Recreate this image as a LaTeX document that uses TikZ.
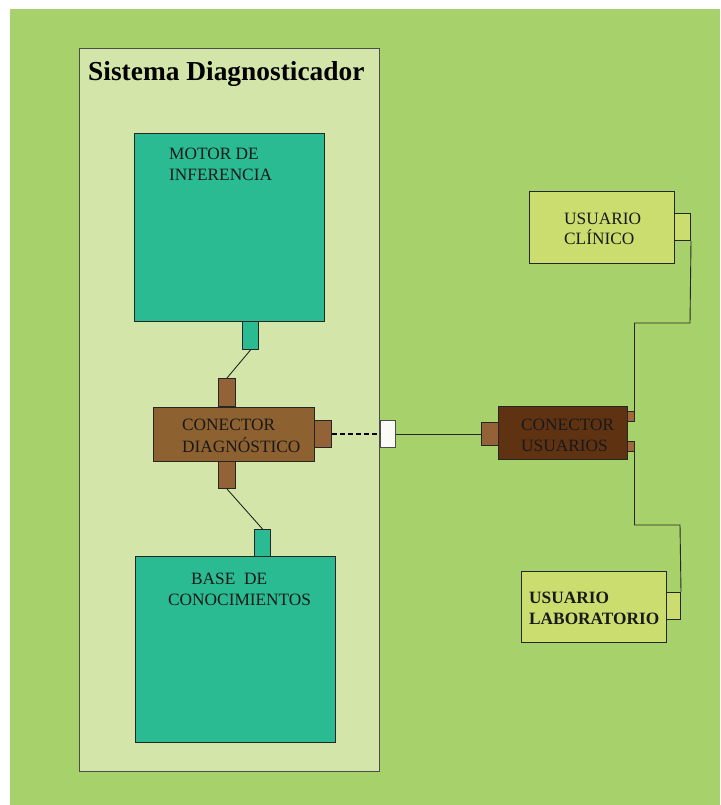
\documentclass[tikz,border=0pt]{standalone}
\usepackage{fontspec}
\setmainfont{Liberation Serif}
\definecolor{bggreen}{HTML}{A7D26B}
\definecolor{syspale}{HTML}{D3E5A9}
\definecolor{tealbox}{HTML}{2ABB93}
\definecolor{brownbox}{HTML}{8E6130}
\definecolor{brownport}{HTML}{936236}
\definecolor{darkbrown}{HTML}{5F3212}
\definecolor{smallport}{HTML}{A2683A}
\definecolor{userbox}{HTML}{CBDD6E}
\begin{document}
\begin{tikzpicture}[x=1pt,y=-1pt,
  blk/.style={draw=black!85, line width=1pt, inner sep=0pt, anchor=north west},
  lbl/.style={anchor=base west, inner sep=0pt, font=\fontsize{17.3}{21}\selectfont, text=black!90},
  wire/.style={draw=black!85, line width=0.9pt}]
\useasboundingbox (0,0) rectangle (720,805);
% backdrop
\fill[bggreen] (10,9) rectangle (720,805);
% system container
\node[blk, fill=syspale, draw=black!70, minimum width=300pt, minimum height=723pt] (sys) at (79,48) {};
\node[anchor=base west, inner sep=0pt, font=\fontsize{27.4}{30}\selectfont\bfseries] (title) at (88,81) {Sistema Diagnosticador};
% inference engine
\node[blk, fill=tealbox, minimum width=190pt, minimum height=188pt] (motor) at (134,133) {};
\node[lbl] (motorA) at (169,160) {MOTOR DE};
\node[lbl] (motorB) at (169,181) {INFERENCIA};
\node[blk, fill=tealbox, minimum width=16pt, minimum height=28pt] (mport) at (242,321) {};
% knowledge base
\node[blk, fill=tealbox, minimum width=200pt, minimum height=186pt] (base) at (135,556) {};
\node[lbl] (baseA) at (191,584) {BASE~~DE};
\node[lbl] (baseB) at (168,605) {CONOCIMIENTOS};
\node[blk, fill=tealbox, minimum width=16pt, minimum height=27pt] (bport) at (254,529) {};
% diagnostic connector
\node[blk, fill=brownport, minimum width=17pt, minimum height=28pt] (cdtop) at (218,378) {};
\node[blk, fill=brownport, minimum width=17pt, minimum height=27pt] (cdbot) at (218,461) {};
\node[blk, fill=brownport, minimum width=17pt, minimum height=27pt] (cdright) at (314,420) {};
\node[blk, fill=brownbox, minimum width=161pt, minimum height=54pt] (cd) at (153,407) {};
\node[lbl] (cdA) at (182,430) {CONECTOR};
\node[lbl] (cdB) at (182,452) {DIAGNÓSTICO};
% boundary port
\node[blk, draw=black!70, left color=white!90!syspale, middle color=syspale!80!white, right color=white!85!syspale, minimum width=15pt, minimum height=27pt] (edge) at (380,420) {};
% user connector
\node[blk, fill=brownport, minimum width=17pt, minimum height=23pt] (culeft) at (481,422) {};
\node[blk, fill=darkbrown, minimum width=129pt, minimum height=53pt] (cu) at (498,406) {};
\node[lbl] (cuA) at (521,430) {CONECTOR};
\node[lbl] (cuB) at (521,451) {USUARIOS};
\node[blk, fill=smallport, minimum width=7pt, minimum height=10pt] (cutop) at (627,411) {};
\node[blk, fill=smallport, minimum width=7pt, minimum height=10pt] (cubot) at (627,441) {};
% clinical user
\node[blk, fill=userbox, minimum width=145pt, minimum height=72pt] (uc) at (529,191) {};
\node[lbl] (ucA) at (564,224) {USUARIO};
\node[lbl] (ucB) at (564,244) {CLÍNICO};
\node[blk, fill=userbox, minimum width=16pt, minimum height=27pt] (ucport) at (674,213) {};
% laboratory user
\node[blk, fill=userbox, minimum width=145pt, minimum height=71pt] (ul) at (521,571) {};
\node[lbl, font=\fontsize{17.3}{21}\selectfont\bfseries] (ulA) at (529,603) {USUARIO};
\node[lbl, font=\fontsize{17.3}{21}\selectfont\bfseries] (ulB) at (529,624) {LABORATORIO};
\node[blk, fill=userbox, minimum width=14pt, minimum height=27pt] (ulport) at (666,592) {};
% links
\draw[wire] (mport.south) -- (cdtop.north);
\draw[wire] (cdbot.south) -- (bport.north);
\draw[black, line width=2pt, dash pattern=on 5pt off 3pt] (cdright.east) -- (edge.west);
\draw[wire] (edge.east) -- (culeft.west);
\coordinate (j1) at (690,323);
\coordinate (j2) at (680,525);
\draw[wire] ([xshift=-0.5pt]cutop.north east) |- (j1) -- (ucport.south east);
\draw[wire] ([xshift=-0.5pt]cubot.south east) |- (j2) -- (ulport.north east);
\end{tikzpicture}
\end{document}
